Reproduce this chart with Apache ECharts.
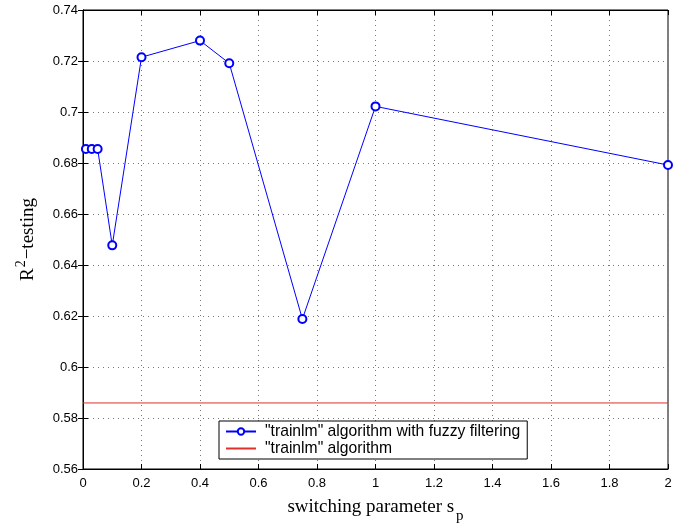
<!DOCTYPE html>
<html>
<head>
<meta charset="utf-8">
<script src="https://cdn.jsdelivr.net/npm/echarts@6/dist/echarts.min.js"></script>
<style>
    html, body { margin: 0; padding: 0; background: #fff; }
    #chart { width: 682px; height: 529px; }
</style>
</head>
<body>
<div id="chart"></div>
<script>
// 数据
const spValues = [0.01, 0.03, 0.05, 0.1, 0.2, 0.4, 0.5, 0.75, 1, 2];
const r2Fuzzy = [0.6855, 0.6855, 0.6855, 0.6477, 0.7215, 0.728, 0.7191, 0.6188, 0.7022, 0.6792];
const r2Plain = 0.5859;
const xRange = [0, 2];
const seriesNames = ['"trainlm" algorithm with fuzzy filtering', '"trainlm" algorithm'];

window.addEventListener('DOMContentLoaded', function() {
    const chart = echarts.init(document.getElementById('chart'));
    const labelFont = { color: '#000', fontSize: 13, fontFamily: 'Liberation Sans, Arial, sans-serif' };
    const gridLine = { show: true, lineStyle: { color: '#777', type: [1, 4], width: 1 } };
    const serif = 'Liberation Serif, Times New Roman, serif';

    // 主坐标轴 + 上/右镜像轴（只画刻度）
    const option = {
        animation: false,
        backgroundColor: '#fff',
        grid: {
            left: 83, right: 14, top: 10, bottom: 60,
            containLabel: false, outerBoundsMode: 'none',
            show: true, borderColor: '#000', borderWidth: 1
        },
        xAxis: [
            {
                type: 'value', min: 0, max: 2, interval: 0.2,
                name: '{t|switching parameter s}{sub|p}',
                nameLocation: 'middle', nameGap: 22,
                nameTextStyle: {
                    rich: {
                        t: { fontFamily: serif, fontSize: 19, color: '#000' },
                        sub: { fontFamily: serif, fontSize: 15, color: '#000', padding: [18, 0, 0, 2] }
                    }
                },
                axisLine: { lineStyle: { color: '#000', width: 1 } },
                axisTick: { inside: true, length: 5, lineStyle: { color: '#000' } },
                axisLabel: Object.assign({ margin: 8 }, labelFont),
                splitLine: gridLine
            },
            {
                type: 'value', min: 0, max: 2, interval: 0.2, position: 'top',
                axisLine: { show: true, lineStyle: { color: '#000' } },
                axisTick: { inside: true, length: 5, lineStyle: { color: '#000' } },
                axisLabel: { show: false }, splitLine: { show: false }
            }
        ],
        yAxis: [
            {
                type: 'value', min: 0.56, max: 0.74, interval: 0.02,
                name: '{t|R}{sup|2}{t|\u2212testing}',
                nameLocation: 'middle', nameGap: 41, nameRotate: 90,
                nameTextStyle: {
                    rich: {
                        t: { fontFamily: serif, fontSize: 19, color: '#000' },
                        sup: { fontFamily: serif, fontSize: 14, color: '#000', padding: [0, 1, 14, 1] }
                    }
                },
                axisLine: { show: true, lineStyle: { color: '#000', width: 1 } },
                axisTick: { show: true, inside: true, length: 5, lineStyle: { color: '#000' } },
                axisLabel: Object.assign({ margin: 5 }, labelFont),
                splitLine: gridLine
            },
            {
                type: 'value', min: 0.56, max: 0.74, interval: 0.02, position: 'right',
                axisLine: { show: true, lineStyle: { color: '#000' } },
                axisTick: { show: true, inside: true, length: 5, lineStyle: { color: '#000' } },
                axisLabel: { show: false }, splitLine: { show: false }
            }
        ],
        legend: {
            orient: 'vertical',
            left: 219, top: 421,
            padding: [2, 7, 2, 6],
            itemGap: 0,
            itemWidth: 30, itemHeight: 8,
            borderColor: '#000', borderWidth: 1,
            backgroundColor: '#fff',
            textStyle: { color: '#000', fontSize: 15.7, lineHeight: 17, fontFamily: 'Liberation Sans, Arial, sans-serif', padding: [0, 0, 0, 4] },
            data: [
                { name: seriesNames[0] },
                { name: seriesNames[1], itemStyle: { opacity: 0 } }
            ]
        },
        series: [
            {
                name: seriesNames[0],
                type: 'line',
                data: spValues.map((x, i) => [x, r2Fuzzy[i]]),
                symbol: 'emptyCircle', symbolSize: 8,
                lineStyle: { color: '#0000ff', width: 1 },
                itemStyle: { color: '#0000ff', borderWidth: 1 },
                z: 3
            },
            {
                name: seriesNames[1],
                type: 'line',
                data: xRange.map(x => [x, r2Plain]),
                symbol: 'none',
                lineStyle: { color: '#e0302a', width: 1 },
                itemStyle: { color: '#e0302a' },
                z: 2
            }
        ]
    };
    chart.setOption(option);
});
</script>
</body>
</html>
